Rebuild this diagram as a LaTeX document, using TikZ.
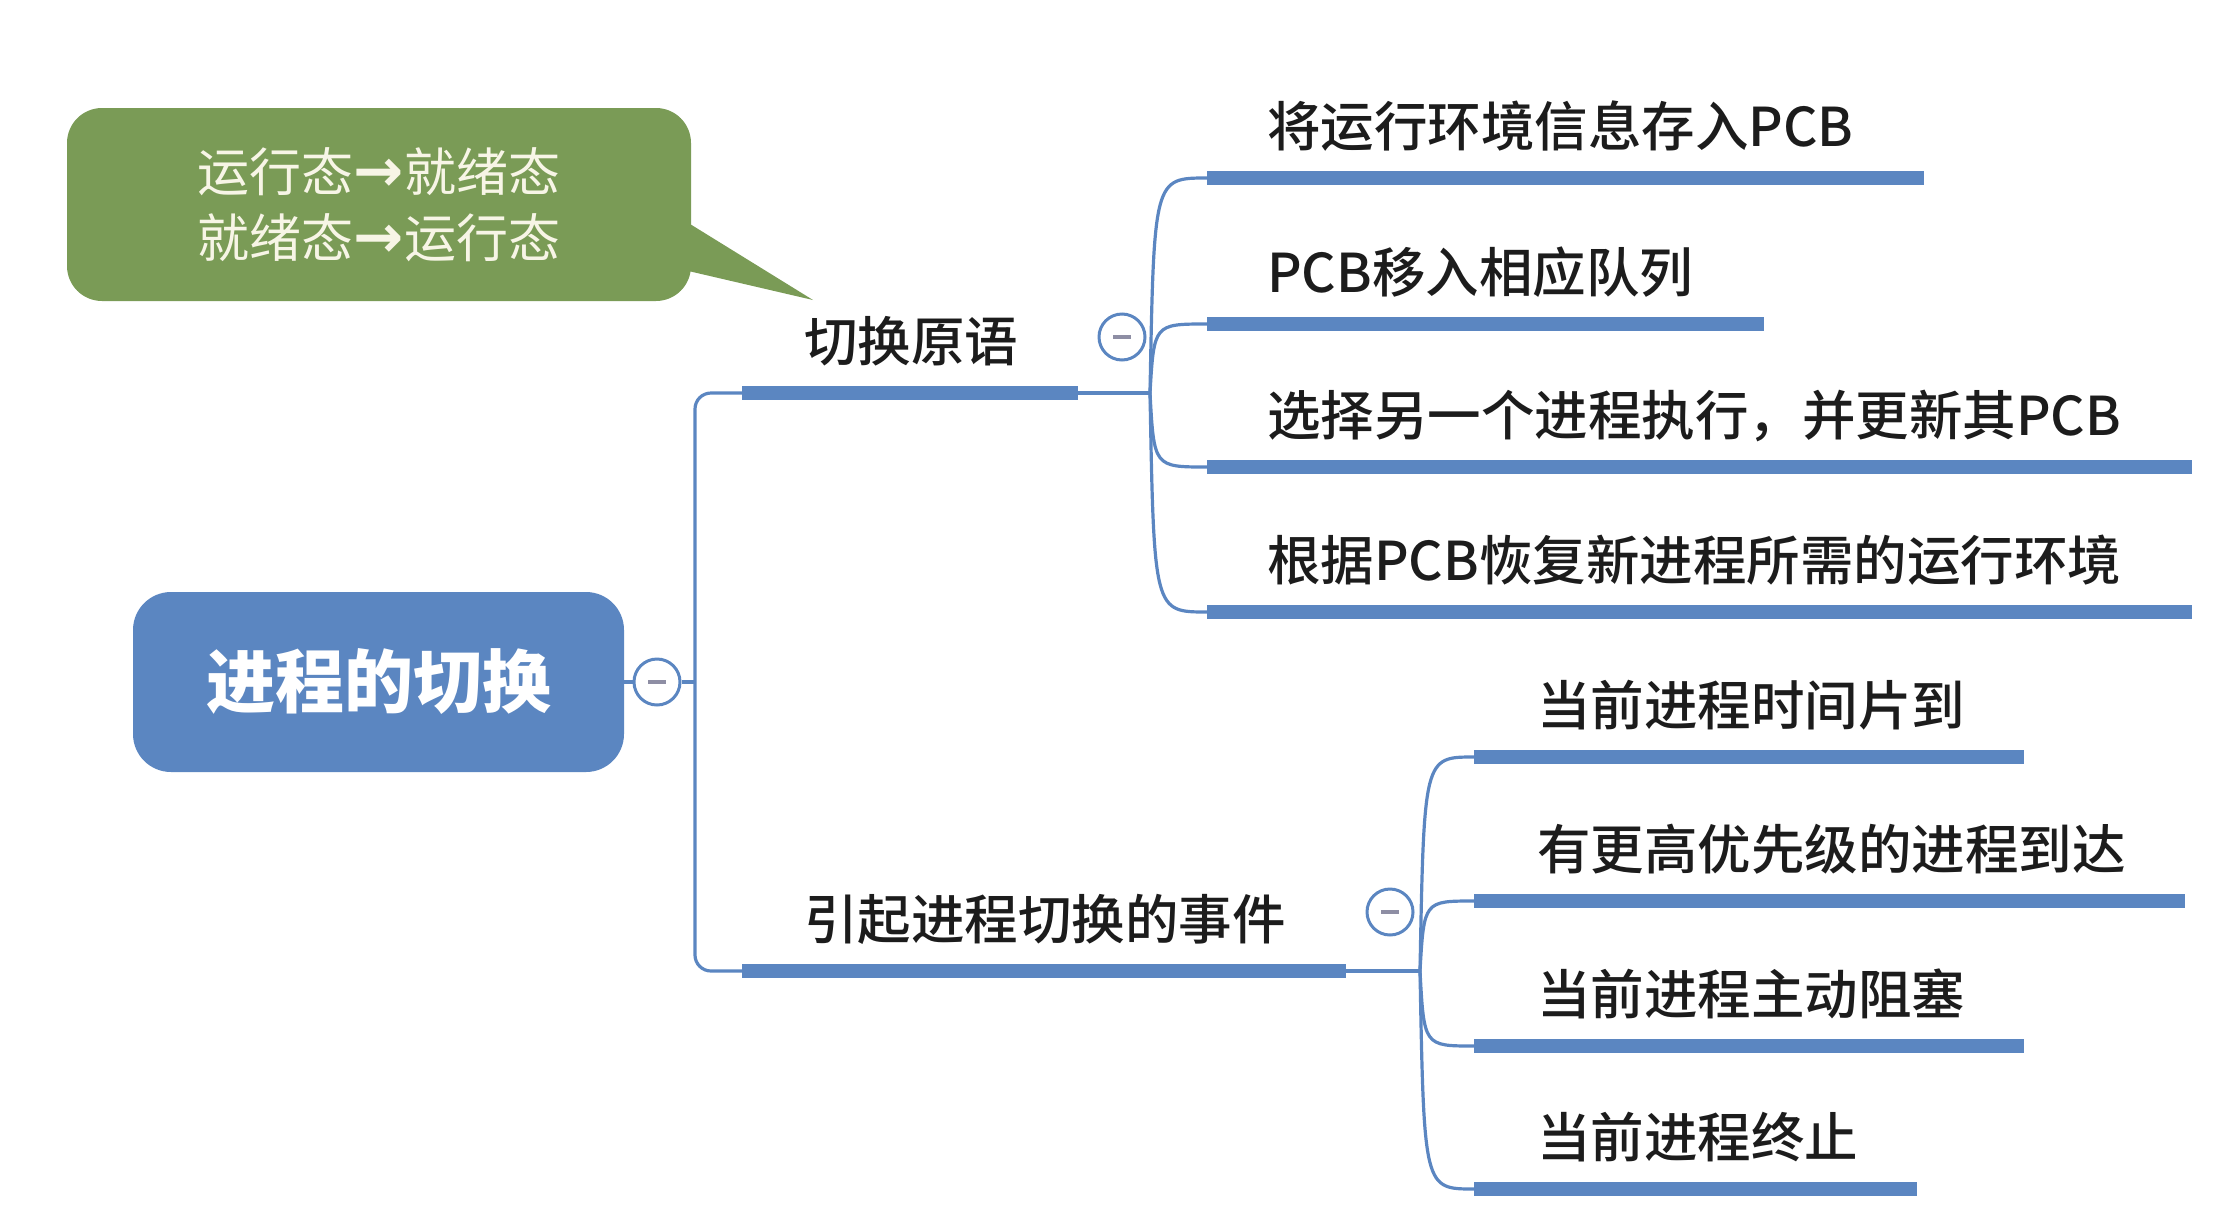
\documentclass[tikz,border=0pt]{standalone}
\usepackage{fontspec}
\newfontfamily\cjk{Noto Sans CJK SC}
\newfontfamily\cjkm{Noto Sans CJK SC Medium}
\newfontfamily\arrfont{DejaVu Sans}
\usetikzlibrary{calc}
\definecolor{mblue}{HTML}{5B86C1}
\definecolor{mgreen}{HTML}{7A9B56}
\definecolor{mgray}{HTML}{8E8EA4}
\definecolor{ctext}{HTML}{F7F5E6}
\definecolor{ltext}{HTML}{1C1C1C}
\newcommand{\rarr}{{\arrfont\bfseries\fontsize{60}{66}\selectfont →}}
\begin{document}
\begin{tikzpicture}[x=1pt,y=-1pt,
  conn/.style={draw=mblue, line width=3.2pt},
  barnode/.style={fill=mblue, inner sep=0pt, minimum height=14pt, anchor=west},
  lbl/.style={font=\cjkm\fontsize{53.5}{60}\selectfont, text=ltext, inner sep=0pt, anchor=base west},
  ctrl/.style={circle, draw=mblue, line width=3pt, fill=white, minimum size=46pt, inner sep=0pt,
    path picture={\draw[mgray, line width=3.5pt] ($(path picture bounding box.center)+(-9,0)$) -- ($(path picture bounding box.center)+(9,0)$);}},
  rootnode/.style={fill=mblue, rounded corners=38pt, minimum width=491pt, minimum height=180pt, inner sep=0pt, text=white, font=\cjk\bfseries\fontsize{69}{80}\selectfont},
  callout/.style={fill=mgreen, rounded corners=35pt, minimum width=624pt, minimum height=193pt, inner sep=0pt, text=ctext, align=center, font=\cjk\fontsize{52}{66}\selectfont},
]
\useasboundingbox (0,0) rectangle (2238,1224);

% callout
\node[callout] (call) at (379,204.5) {运行态\rarr 就绪态\\就绪态\rarr 运行态};
\coordinate (tip) at (813,300);
\fill[mgreen] ($(call.north east)+(-8,112)$) -- (tip) -- ($(call.north east)+(-8,162)$) -- cycle;

% root
\node[rootnode] (root) at (378.5,682) {进程的切换};
\node[ctrl] (c0) at (657,682) {};
\coordinate (tr) at (695,682);
\draw[conn] (root.east) -- (c0.west);
\draw[conn] (c0.east) -- (tr);

% level 1
\node[barnode, minimum width=336pt] (s1) at (742,393) {};
\node[barnode, minimum width=604pt] (s2) at (742,971) {};
\draw[conn, rounded corners=16pt] (s1.west) -| (tr) |- (s2.west);
\node[lbl] (ls1) at ($(s1.west)+(62,-32)$) {切换原语};
\node[lbl] (ls2) at ($(s2.west)+(62,-32)$) {引起进程切换的事件};
\node[ctrl] (c1) at (1122,337) {};
\node[ctrl] (c2) at (1390,912) {};
\coordinate (b1) at (1150,393);
\coordinate (b2) at (1420,971);
\draw[conn] (s1.east) -- (b1);
\draw[conn] (s2.east) -- (b2);

% children of s1
\node[barnode, minimum width=717pt] (k1) at (1207,178) {};
\node[barnode, minimum width=557pt] (k2) at (1207,324) {};
\node[barnode, minimum width=985pt] (k3) at (1207,467) {};
\node[barnode, minimum width=985pt] (k4) at (1207,612) {};
\node[lbl] (lk1) at ($(k1.west)+(60,-32)$) {将运行环境信息存入PCB};
\node[lbl] (lk2) at ($(k2.west)+(60,-32)$) {PCB移入相应队列};
\node[lbl] (lk3) at ($(k3.west)+(60,-32)$) {选择另一个进程执行，并更新其PCB};
\node[lbl] (lk4) at ($(k4.west)+(60,-32)$) {根据PCB恢复新进程所需的运行环境};
\foreach \k in {k1,k2,k3,k4}{
  \draw[conn] (b1) .. controls ($(b1 |- \k.west)+(4,0)$) .. (\k.west);
}

% children of s2
\node[barnode, minimum width=550pt] (m1) at (1474,757) {};
\node[barnode, minimum width=711pt] (m2) at (1474,901) {};
\node[barnode, minimum width=550pt] (m3) at (1474,1046) {};
\node[barnode, minimum width=443pt] (m4) at (1474,1189) {};
\node[lbl] (lm1) at ($(m1.west)+(63,-32)$) {当前进程时间片到};
\node[lbl] (lm2) at ($(m2.west)+(63,-32)$) {有更高优先级的进程到达};
\node[lbl] (lm3) at ($(m3.west)+(63,-32)$) {当前进程主动阻塞};
\node[lbl] (lm4) at ($(m4.west)+(63,-32)$) {当前进程终止};
\foreach \m in {m1,m2,m3,m4}{
  \draw[conn] (b2) .. controls ($(b2 |- \m.west)+(4,0)$) .. (\m.west);
}
\end{tikzpicture}
\end{document}
